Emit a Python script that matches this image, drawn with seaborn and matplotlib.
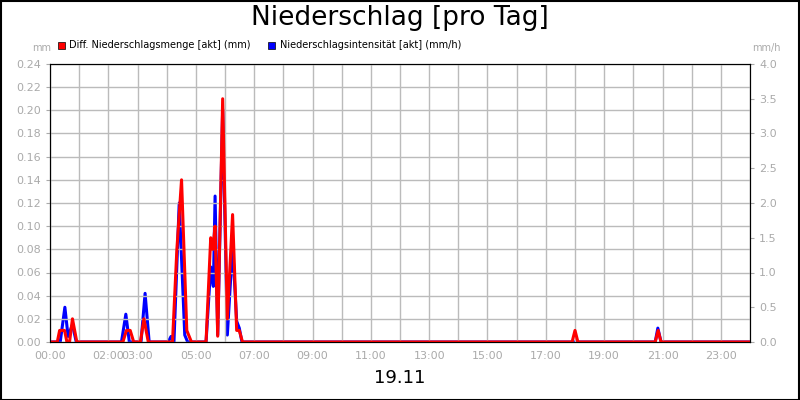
import matplotlib
matplotlib.use("Agg")
import matplotlib.pyplot as plt
import seaborn as sns
import pandas as pd
from matplotlib.patches import Rectangle

# hours since 00:00
red_t = [0, 0.25, 0.33, 0.5, 0.58, 0.67, 0.77, 0.92, 2.5, 2.62, 2.75, 2.87, 3.1, 3.22, 3.37, 4.2, 4.35, 4.51, 4.69, 4.85, 5.35, 5.51, 5.58, 5.66, 5.75, 5.92, 6.08, 6.26, 6.4, 6.49, 6.6, 17.9, 18.0, 18.1, 20.75, 20.85, 20.95, 24]
red_v = [0, 0, 0.01, 0.01, 0, 0, 0.02, 0, 0, 0.01, 0.01, 0, 0, 0.02, 0, 0, 0.08, 0.14, 0.01, 0, 0, 0.09, 0.08, 0.10, 0.005, 0.21, 0.02, 0.11, 0.01, 0.01, 0, 0, 0.01, 0, 0, 0.01, 0, 0]
blue_t = [0, 0.35, 0.51, 0.62, 0.77, 0.9, 2.45, 2.6, 2.72, 3.12, 3.26, 3.4, 4.05, 4.15, 4.25, 4.43, 4.62, 4.72, 5.35, 5.51, 5.6, 5.66, 5.75, 5.92, 6.08, 6.26, 6.4, 6.49, 6.58, 20.75, 20.84, 20.95, 24]
blue_v = [0, 0, 0.50, 0.08, 0.25, 0, 0, 0.40, 0, 0, 0.70, 0, 0, 0.08, 0, 2.0, 0.1, 0, 0, 1.08, 0.8, 2.1, 0.1, 3.35, 0.1, 1.38, 0.3, 0.2, 0, 0, 0.2, 0, 0]
tick_pos = [0, 2, 3, 5, 7, 9, 11, 13, 15, 17, 19, 21, 23]
tick_lab = ["00:00", "02:00", "03:00", "05:00", "07:00", "09:00", "11:00", "13:00", "15:00", "17:00", "19:00", "21:00", "23:00"]

sns.set_style("white")
plt.rcParams['font.family'] = ['DejaVu Sans']
fig = plt.figure(figsize=(8, 4), dpi=100)
fig.patches.append(Rectangle((0.001, 0.001), 0.998, 0.997, transform=fig.transFigure, fill=False, ec='black', lw=1.5))
ax = fig.add_axes([50/800, 1-342/400, 700/800, 278/400])
ax2 = ax.twinx()
ax.set_zorder(ax2.get_zorder() + 1)
ax.patch.set_visible(False)

sns.lineplot(x=blue_t, y=blue_v, ax=ax2, color='#0000ff', lw=2.2)
sns.lineplot(x=red_t, y=red_v, ax=ax, color='#ff0000', lw=2.2)

ax.set_xlim(0, 24)
ax.set_ylim(0, 0.24)
ax2.set_ylim(0, 4)
ax.set_yticks([i*0.02 for i in range(13)])
ax.set_yticklabels([f"{i*0.02:.2f}" for i in range(13)])
ax2.set_yticks([i*0.5 for i in range(9)])
ax2.set_yticklabels([f"{i*0.5:.1f}" for i in range(9)])
ax.set_xticks(range(25), minor=False)
ax.set_xticklabels([tick_lab[tick_pos.index(h)] if h in tick_pos else "" for h in range(25)])
ax.grid(True, color='#bbbbbb', lw=1)
for a in (ax, ax2):
    a.tick_params(labelsize=8, colors='#aaaaaa', length=3)
    for s in a.spines.values():
        s.set_color('black')
ax.tick_params(axis='x', labelcolor='#aaaaaa', color='black')
ax.set_xlabel("")
fig.text(0.5, 0.955, "Niederschlag [pro Tag]", ha='center', va='center', fontsize=19, color='black')
fig.text(0.5, 0.055, "19.11", ha='center', va='center', fontsize=13, color='black')
fig.text(32/800, 1-48/400, "mm", fontsize=7, color='#aaaaaa', va='center')
fig.text(752/800, 1-48/400, "mm/h", fontsize=7, color='#aaaaaa', va='center')
fig.patches.append(Rectangle((58/800, 1-49/400), 7/800, 7/400, transform=fig.transFigure, fc='#ff0000', ec='black', lw=0.5))
fig.text(69/800, 1-45/400, "Diff. Niederschlagsmenge [akt] (mm)", fontsize=7, va='center', color='black')
fig.patches.append(Rectangle((268/800, 1-49/400), 7/800, 7/400, transform=fig.transFigure, fc='#0000ff', ec='black', lw=0.5))
fig.text(280/800, 1-45/400, "Niederschlagsintensität [akt] (mm/h)", fontsize=7, va='center', color='black')
fig.savefig("out.png", dpi=100)
